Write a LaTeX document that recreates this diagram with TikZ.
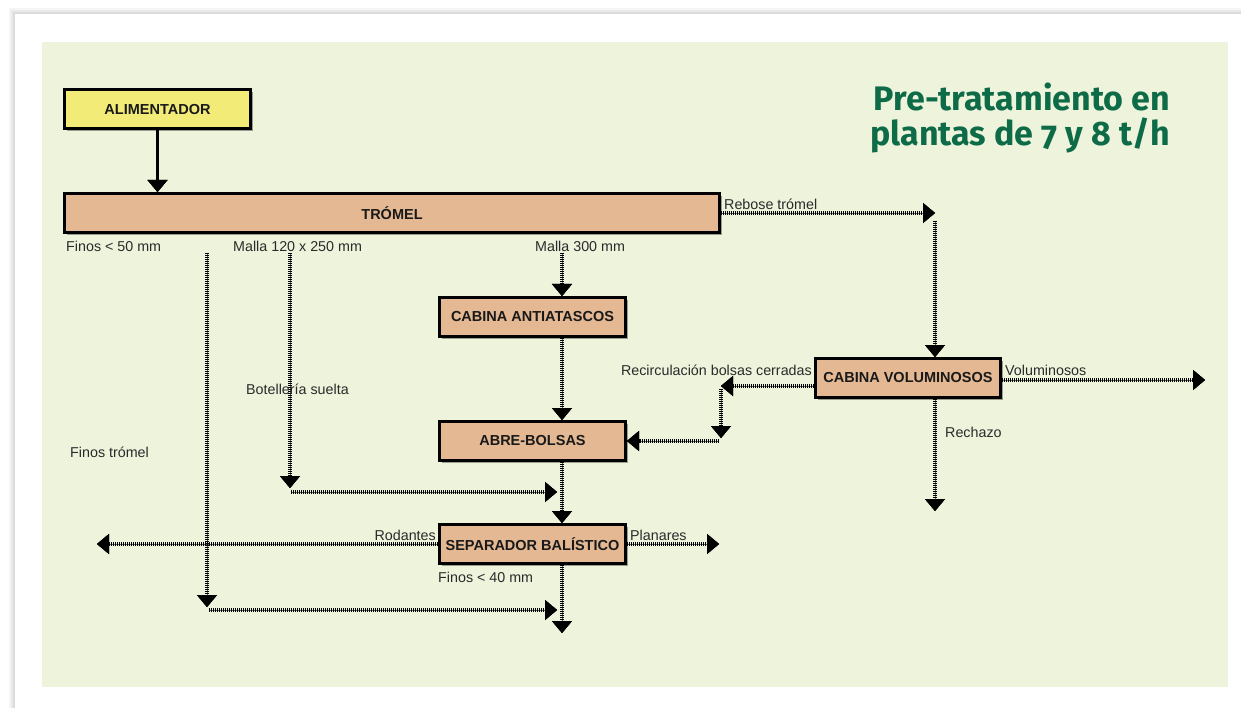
\documentclass[tikz,border=0pt]{standalone}
\usepackage{fontspec}
\setmainfont{Liberation Sans}
\newfontfamily\titlefont[Numbers=OldStyle]{Fira Sans}
\usetikzlibrary{arrows.meta,shadows}

\definecolor{panelgreen}{HTML}{EEF3DC}
\definecolor{boxtan}{HTML}{E3B892}
\definecolor{boxyellow}{HTML}{F2EB78}
\definecolor{titlegreen}{HTML}{0E6B47}
\definecolor{ink}{HTML}{2A2A2A}

\tikzset{
  x=1pt, y=-1pt,
  stage/.style={draw=black, line width=3pt, fill=boxtan, inner sep=0pt,
    minimum width=186pt, minimum height=39pt,
    font=\bfseries\fontsize{14.5}{16}\selectfont, text=black!90,
    drop shadow={shadow xshift=2.5pt, shadow yshift=-2.5pt, opacity=0.35, fill=black}},
  flow/.style={line width=3.3pt, draw=black, dash pattern=on 1.2pt off 0.8pt,
    preaction={draw=black!60, solid},
    -{Triangle[length=12pt, width=20pt, line width=0.1pt, fill=black, color=black]}},
  lbl/.style={inner sep=0pt, text=ink, font=\fontsize{14.3}{16}\selectfont},
  heading/.style={inner sep=0pt, text=titlegreen, anchor=base east,
    font=\titlefont\bfseries\fontsize{34}{38}\selectfont},
}

\begin{document}
\begin{tikzpicture}
\useasboundingbox (0,0) rectangle (1241,708);

% page card with a soft shadow along its top and left edges
\fill[black, opacity=0.04] (9,8) rectangle (1260,730);
\fill[black, opacity=0.05] (11,10) rectangle (1260,730);
\fill[black, opacity=0.06] (13,12) rectangle (1260,730);
\fill[white] (15,14) rectangle (1260,730);
% panel
\fill[panelgreen] (42,42) rectangle (1228,687);

% heading
\node[heading] (title1) at (1170,111) {Pre-tratamiento en};
\node[heading] (title2) at (1170,146) {plantas de 7 y 8 t/h};

% process stages
\node[stage, fill=boxyellow] (alim) at (157.5,109.5) {ALIMENTADOR};
\node[stage, minimum width=655pt] (trom) at (392,213) {TRÓMEL};
\node[stage] (antia) at (532.5,317) {CABINA ANTIATASCOS};
\node[stage] (abre) at (532.5,441) {ABRE-BOLSAS};
\node[stage] (sep) at (532.5,544) {SEPARADOR BALÍSTICO};
\node[stage, minimum width=185pt] (vol) at (908,378) {CABINA VOLUMINOSOS};

% reference points for the connectors
\coordinate (colC) at (562,0);
\coordinate (colV) at (935,0);
\coordinate (rbA) at (935,213);
\coordinate (rbB) at (935,221);
\coordinate (m300) at (562,253);
\coordinate (m120) at (290,253);
\coordinate (m120end) at (290,488);
\coordinate (m120B) at (291,492);
\coordinate (m120C) at (557,492);
\coordinate (f50) at (207,253);
\coordinate (f50end) at (207,607);
\coordinate (f50B) at (209,610);
\coordinate (f50C) at (557,610);
\coordinate (rcY) at (0,386);
\coordinate (rcA) at (721,386);
\coordinate (rcB) at (721,389);
\coordinate (rcC) at (721,438);
\coordinate (rcD) at (719,441);
\coordinate (volY) at (0,380);
\coordinate (volOut) at (1205,380);
\coordinate (rechazo) at (935,511);
\coordinate (sepOut) at (562,633);
\coordinate (rodOut) at (97,544);
\coordinate (planOut) at (719,544);

% connectors
\draw[flow] (alim.south) -- (alim.south |- trom.north);
\draw[flow] (trom.east) -- (rbA);
\draw[flow] (rbB) -- (vol.north -| colV);
\draw[flow] (m300) -- (antia.north -| colC);
\draw[flow] (antia.south -| colC) -- (abre.north -| colC);
\draw[flow] (abre.south -| colC) -- (sep.north -| colC);
\draw[flow] (sep.south -| colC) -- (sepOut);
\draw[flow] (vol.west |- rcY) -- (rcA);
\draw[flow] (rcB) -- (rcC);
\draw[flow] (rcD) -- (abre.east);
\draw[flow] (vol.east |- volY) -- (volOut);
\draw[flow] (vol.south -| colV) -- (rechazo);
\draw[flow] (m120) -- (m120end);
\draw[flow] (m120B) -- (m120C);
\draw[flow] (f50) -- (f50end);
\draw[flow] (f50B) -- (f50C);
\draw[flow] (sep.west) -- (rodOut);
\draw[flow] (sep.east) -- (planOut);

% stream labels
\node[lbl, anchor=west] (lf50) at (66,246) {Finos < 50 mm};
\node[lbl, anchor=west] (lm120) at (233,246) {Malla 120 x 250 mm};
\node[lbl, anchor=west] (lm300) at (535,246) {Malla 300 mm};
\node[lbl, anchor=west] (lreb) at (724,204) {Rebose trómel};
\node[lbl, anchor=west] (lbot) at (246,389) {Botellería suelta};
\node[lbl, anchor=west] (lft) at (70,452) {Finos trómel};
\node[lbl, anchor=east] (lrec) at (812,370) {Recirculación bolsas cerradas};
\node[lbl, anchor=west] (lvol) at (1005,370) {Voluminosos};
\node[lbl, anchor=west] (lrech) at (945,432) {Rechazo};
\node[lbl, anchor=east] (lrod) at (436,535) {Rodantes};
\node[lbl, anchor=west] (lplan) at (630,535) {Planares};
\node[lbl, anchor=west] (lf40) at (438,577) {Finos < 40 mm};
\end{tikzpicture}
\end{document}
